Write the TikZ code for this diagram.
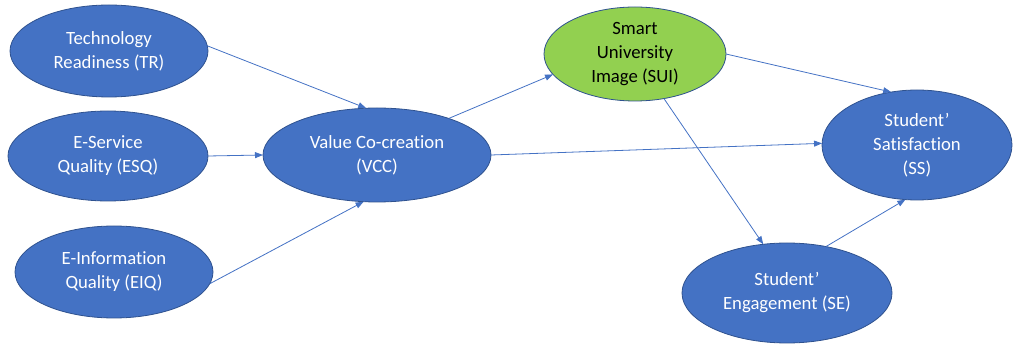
\documentclass[tikz,border=0pt]{standalone}
\usepackage{fontspec}
\setmainfont{Carlito}[Ligatures={NoCommon}]
\usetikzlibrary{shapes.geometric,arrows.meta}
\definecolor{nodeblue}{HTML}{4472C4}
\definecolor{edgeblue}{HTML}{2F528F}
\definecolor{nodegreen}{HTML}{92D050}
\tikzset{
  construct/.style={ellipse, draw=edgeblue, line width=0.8pt, fill=nodeblue, text=white,
    inner sep=0pt, outer sep=0pt, align=center, font=\fontsize{18.7}{24}\selectfont},
  greenconstruct/.style={construct, fill=nodegreen, text=black},
  path/.style={draw=nodeblue, line width=0.8pt, -{Triangle[length=8pt,width=6pt]}}
}
\begin{document}
\begin{tikzpicture}[x=1pt,y=-1pt]
\useasboundingbox (0,0) rectangle (1015,347);
\node[construct, minimum width=198pt, minimum height=92pt] (TR) at (109,51) {Technology\\Readiness (TR)};
\node[construct, minimum width=200pt, minimum height=90pt] (ESQ) at (108,156) {E-Service\\Quality (ESQ)};
\node[construct, minimum width=198pt, minimum height=92pt] (EIQ) at (114,272) {E-Information\\Quality (EIQ)};
\node[construct, minimum width=228pt, minimum height=94pt] (VCC) at (377,155) {Value Co-creation\\(VCC)};
\node[greenconstruct, minimum width=182pt, minimum height=94pt] (SUI) at (635,54) {Smart\\University\\Image (SUI)};
\node[construct, minimum width=190pt, minimum height=110pt] (SS) at (917,145) {Student’\\Satisfaction\\(SS)};
\node[construct, minimum width=210pt, minimum height=100pt] (SE) at (787,293) {Student’\\Engagement (SE)};
\draw[path] (TR.3) -- (VCC.103);
\draw[path] (ESQ.0) -- (VCC.180);
\draw[path] (EIQ.-7) -- (VCC.254);
\draw[path] (VCC.27) -- (SUI.194);
\draw[path] (VCC.0) -- (SS.179);
\draw[path] (SUI.0) -- (SS.116);
\draw[path] (SUI.-57) -- (SE.116);
\draw[path] (SE.50) -- (SS.258);
\end{tikzpicture}
\end{document}
